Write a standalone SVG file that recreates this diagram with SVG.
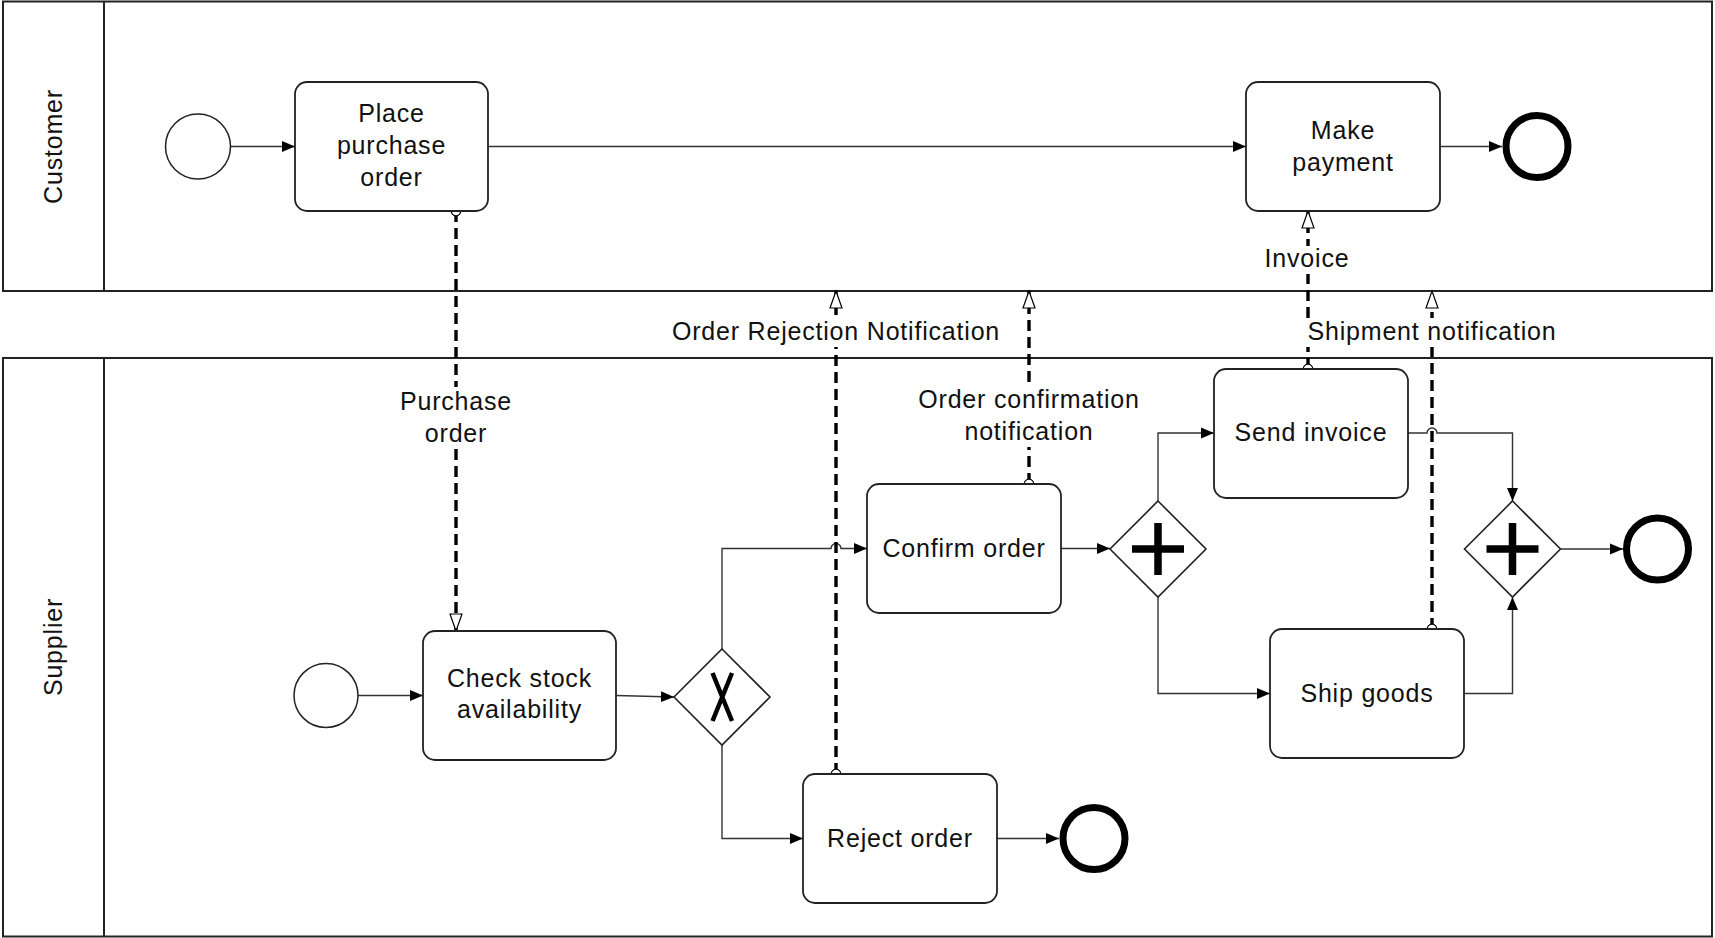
<svg xmlns="http://www.w3.org/2000/svg" width="1715" height="938" viewBox="0 0 1715 938">
<style>
.pool{fill:#fff;stroke:#222;stroke-width:2}
.task{fill:#fff;stroke:#222;stroke-width:1.8}
.start{fill:#fff;stroke:#222;stroke-width:1.5}
.end{fill:#fff;stroke:#000;stroke-width:7}
.gw{fill:#fff;stroke:#222;stroke-width:1.6}
.mark{stroke:#000;stroke-width:7.5;fill:none}
.xmark{stroke:#000;stroke-width:4.5;fill:none}
.seq{fill:none;stroke:#333;stroke-width:1.4;marker-end:url(#arr)}
.msg{fill:none;stroke:#000;stroke-width:3.4;stroke-dasharray:11 6;marker-start:url(#circ);marker-end:url(#harr)}
.lblbg{fill:#fff;stroke:none}
text{font-family:"Liberation Sans",Arial,Helvetica,sans-serif;font-size:25px;fill:#111;text-anchor:middle;letter-spacing:0.8px}
</style>
<defs>
<marker id="arr" markerUnits="userSpaceOnUse" markerWidth="14" markerHeight="12" refX="13" refY="6" orient="auto">
<path d="M0,0.5 L13,6 L0,11.5 Z" fill="#000"/>
</marker>
<marker id="harr" markerUnits="userSpaceOnUse" markerWidth="20" markerHeight="14" refX="18" refY="7" orient="auto">
<path d="M1,1 L18,7 L1,13 Z" fill="#fff" stroke="#000" stroke-width="1.2"/>
</marker>
<marker id="circ" markerUnits="userSpaceOnUse" markerWidth="14" markerHeight="14" refX="7" refY="7" orient="auto">
<circle cx="7" cy="7" r="4.8" fill="#fff" stroke="#000" stroke-width="1.2"/>
</marker>
</defs>

<g id="pool-customer">
<rect class="pool" x="3" y="1.5" width="1709" height="289.5"/>
<line x1="104" y1="1.5" x2="104" y2="291" stroke="#222" stroke-width="2"/>
<text transform="translate(62,146.5) rotate(-90)" y="0">Customer</text>
</g>
<g id="pool-supplier">
<rect class="pool" x="3" y="358" width="1709" height="578.5"/>
<line x1="104" y1="358" x2="104" y2="936.5" stroke="#222" stroke-width="2"/>
<text transform="translate(62,647) rotate(-90)" y="0">Supplier</text>
</g>

<g id="connectors">
<path class="seq" d="M231,146.5 H295"/>
<path class="seq" d="M488,146.5 H1246"/>
<path class="seq" d="M1440,146.5 H1502"/>
<path class="seq" d="M358,695.5 H423"/>
<path class="seq" d="M616,695.5 L674,697"/>
<path class="seq" d="M722,649 V548.5 H831 a5,5 0 0 1 10,0 H867"/>
<path class="seq" d="M722,745 V838.5 H803"/>
<path class="seq" d="M997,838.5 H1059"/>
<path class="seq" d="M1061,548.5 H1110"/>
<path class="seq" d="M1158,501 V433 H1214"/>
<path class="seq" d="M1158,597 V693.5 H1270"/>
<path class="seq" d="M1408,433 H1427 a5,5 0 0 1 10,0 H1512.5 V501"/>
<path class="seq" d="M1464,693.5 H1512.5 V597"/>
<path class="seq" d="M1561,549 H1623"/>

<path class="msg" d="M456,211 V631"/>
<path class="msg" d="M1308,369 V211"/>
<path class="msg" d="M836,774 V291"/>
<path class="msg" d="M1029,484 V291"/>
<path class="msg" d="M1432,629 V291"/>

<g id="msg-labels">
<rect class="lblbg" x="402" y="387" width="108" height="60"/>
<text x="456" y="410">Purchase</text>
<text x="456" y="442">order</text>
<rect class="lblbg" x="1266" y="246" width="84" height="28"/>
<text x="1307" y="267">Invoice</text>
<rect class="lblbg" x="1305" y="318" width="254" height="29"/>
<text x="1432" y="340">Shipment notification</text>
<rect class="lblbg" x="670" y="318" width="333" height="29"/>
<text x="836" y="340">Order Rejection Notification</text>
<rect class="lblbg" x="917" y="384" width="223" height="63"/>
<text x="1029" y="408">Order confirmation</text>
<text x="1029" y="440">notification</text>
</g>
</g>

<g id="start-customer"><circle class="start" cx="198" cy="146.5" r="32.5"/></g>
<g id="task-place-order">
<rect class="task" x="295" y="82" width="193" height="129" rx="12"/>
<text x="391.5" y="122">Place</text>
<text x="391.5" y="154">purchase</text>
<text x="391.5" y="186">order</text>
</g>
<g id="task-make-payment">
<rect class="task" x="1246" y="82" width="194" height="129" rx="12"/>
<text x="1343" y="139">Make</text>
<text x="1343" y="171">payment</text>
</g>
<g id="end-customer"><circle class="end" cx="1537" cy="146.5" r="31"/></g>

<g id="start-supplier"><circle class="start" cx="326" cy="695.5" r="32"/></g>
<g id="task-check-stock">
<rect class="task" x="423" y="631" width="193" height="129" rx="12"/>
<text x="519.5" y="687">Check stock</text>
<text x="519.5" y="718">availability</text>
</g>
<g id="gw-xor">
<path class="gw" d="M722,649 L770,697 L722,745 L674,697 Z"/>
<path class="xmark" d="M712.5,673 L732,721 M732,673 L712.5,721"/>
</g>
<g id="task-confirm-order">
<rect class="task" x="867" y="484" width="194" height="129" rx="12"/>
<text x="964" y="557">Confirm order</text>
</g>
<g id="task-reject-order">
<rect class="task" x="803" y="774" width="194" height="129" rx="12"/>
<text x="900" y="847">Reject order</text>
</g>
<g id="end-reject"><circle class="end" cx="1094" cy="838.5" r="31"/></g>
<g id="gw-split">
<path class="gw" d="M1158,501 L1206,549 L1158,597 L1110,549 Z"/>
<path class="mark" d="M1132,549 H1184 M1158,523 V575"/>
</g>
<g id="task-send-invoice">
<rect class="task" x="1214" y="369" width="194" height="129" rx="12"/>
<text x="1311" y="441">Send invoice</text>
</g>
<g id="task-ship-goods">
<rect class="task" x="1270" y="629" width="194" height="129" rx="12"/>
<text x="1367" y="702">Ship goods</text>
</g>
<g id="gw-join">
<path class="gw" d="M1512.5,501 L1560.5,549 L1512.5,597 L1464.5,549 Z"/>
<path class="mark" d="M1486.5,549 H1538.5 M1512.5,523 V575"/>
</g>
<g id="end-supplier"><circle class="end" cx="1657.5" cy="549" r="31"/></g>
</svg>
